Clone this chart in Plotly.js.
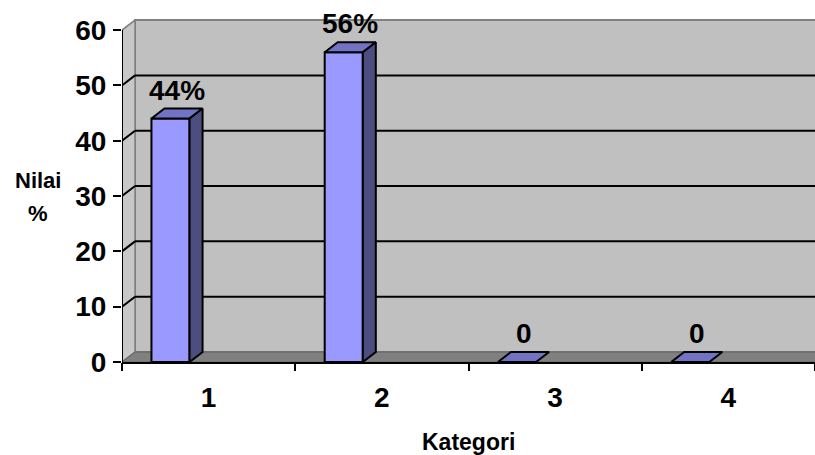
<!DOCTYPE html>
<html>
<head>
<meta charset="utf-8">
<script src="https://cdn.plot.ly/plotly-3.0.1.min.js"></script>
<style>html,body{margin:0;padding:0;background:#fff;}#chart{width:815px;height:455px;}</style>
</head>
<body>
<div id="chart"></div>
<script>
// ---- data ----
const categories = [1, 2, 3, 4];
const tickLabels = ['1', '2', '3', '4'];
const values = [44, 56, 0, 0];
const valueLabels = ['44%', '56%', '0', '0'];
const yTickValues = [0, 10, 20, 30, 40, 50, 60];
const xTitle = 'Kategori';
const yTitleLines = ['Nilai', '%'];

// ---- layout geometry ----
const W = 815, H = 455;
const M = {l: 122, r: 0, t: 19, b: 93};
const xRange = [0.5, 4.5];
const yRange = [0, 62];
const plotW = W - M.l - M.r, plotH = H - M.t - M.b;
const pxX = plotW / (xRange[1] - xRange[0]);
const pxY = plotH / (yRange[1] - yRange[0]);
const dx = 13 / pxX;   // depth offset in x data units
const dy = 10 / pxY;   // depth offset in y data units
const barW = 0.22, barOff = -0.33;
const FONT = 'Liberation Sans, Arial, sans-serif';

const x0w = xRange[0], x1w = xRange[1];
const yTop = yTickValues[yTickValues.length - 1];

const shapes = [];
// back wall
shapes.push({type: 'path', layer: 'below', xref: 'x', yref: 'y',
  path: `M ${x0w + dx} ${dy} L ${x0w + dx} ${yTop + dy} L ${x1w + 1} ${yTop + dy} L ${x1w + 1} ${dy} Z`,
  fillcolor: '#C0C0C0', line: {color: '#808080', width: 2}});
// side wall
shapes.push({type: 'path', layer: 'below', xref: 'x', yref: 'y',
  path: `M ${x0w} 0 L ${x0w} ${yTop} L ${x0w + dx} ${yTop + dy} L ${x0w + dx} ${dy} Z`,
  fillcolor: '#C8C8C8', line: {color: '#808080', width: 1.5}});
// floor
shapes.push({type: 'path', layer: 'below', xref: 'x', yref: 'y',
  path: `M ${x0w} 0 L ${x0w + dx} ${dy} L ${x1w + 1} ${dy} L ${x1w + 1} 0 Z`,
  fillcolor: '#808080', line: {color: '#606060', width: 1}});
// gridlines on back wall and side wall
yTickValues.forEach(v => {
  if (v === 0 || v === yTop) return;
  shapes.push({type: 'line', layer: 'below', xref: 'x', yref: 'y',
    x0: x0w + dx, x1: x1w + 1, y0: v + dy, y1: v + dy, line: {color: '#000', width: 2}});
  shapes.push({type: 'line', layer: 'below', xref: 'x', yref: 'y',
    x0: x0w, x1: x0w + dx, y0: v, y1: v + dy, line: {color: '#000', width: 2}});
});
// front vertical axis line
shapes.push({type: 'line', layer: 'above', xref: 'x', yref: 'y',
  x0: x0w, x1: x0w, y0: 0, y1: yTop, line: {color: '#000', width: 2}});

const traces = [];
// front faces
traces.push({type: 'bar', x: categories, y: values, width: barW, offset: barOff,
  marker: {color: '#9999FF', line: {color: '#000', width: 2}},
  hoverinfo: 'skip', showlegend: false, xaxis: 'x', yaxis: 'y'});
// top and side faces
categories.forEach((c, i) => {
  const a = c + barOff, b = a + barW, v = values[i];
  traces.push({type: 'scatter', mode: 'lines', fill: 'toself',
    x: [a, a + dx, b + dx, b, a], y: [v, v + dy, v + dy, v, v],
    fillcolor: '#7373C6', line: {color: '#000', width: 2},
    hoverinfo: 'skip', showlegend: false});
  if (v > 0) {
    traces.push({type: 'scatter', mode: 'lines', fill: 'toself',
      x: [b, b + dx, b + dx, b, b], y: [0, dy, v + dy, v, 0],
      fillcolor: '#4D4D80', line: {color: '#000', width: 2},
      hoverinfo: 'skip', showlegend: false});
  }
});
// dummy trace for the boundary tick axis
traces.push({type: 'scatter', mode: 'none', x: [xRange[0]], y: [0], xaxis: 'x2', yaxis: 'y',
  hoverinfo: 'skip', showlegend: false});

const annotations = [];
categories.forEach((c, i) => {
  annotations.push({xref: 'x', yref: 'y', x: c + barOff + (barW + dx) / 2, y: values[i] + dy,
    text: valueLabels[i], showarrow: false, yanchor: 'bottom', xanchor: 'center', yshift: 1,
    font: {family: FONT, size: 28, weight: 'bold', color: '#000'}});
});
annotations.push({xref: 'paper', yref: 'paper', x: 0.5, y: 0, yshift: -80, xanchor: 'center', yanchor: 'middle',
  text: xTitle, showarrow: false, font: {family: FONT, size: 23, weight: 'bold', color: '#000'}});
annotations.push({xref: 'paper', yref: 'paper', x: 0, y: 0, xshift: -84, yshift: 182, xanchor: 'center', yanchor: 'middle',
  text: yTitleLines[0], showarrow: false, font: {family: FONT, size: 22, weight: 'bold', color: '#000'}});
annotations.push({xref: 'paper', yref: 'paper', x: 0, y: 0, xshift: -84, yshift: 149, xanchor: 'center', yanchor: 'middle',
  text: yTitleLines[1], showarrow: false, font: {family: FONT, size: 22, weight: 'bold', color: '#000'}});

const layout = {
  width: W, height: H, margin: M,
  paper_bgcolor: '#fff', plot_bgcolor: 'rgba(0,0,0,0)',
  showlegend: false, barmode: 'overlay',
  xaxis: {range: xRange, tickvals: categories, ticktext: tickLabels, ticks: '',
    showgrid: false, zeroline: false, showline: true, linecolor: '#000', linewidth: 2,
    tickfont: {family: FONT, size: 28, weight: 'bold', color: '#000'}, ticklabelstandoff: 9, fixedrange: true},
  xaxis2: {range: xRange, overlaying: 'x', anchor: 'y', side: 'bottom',
    tickvals: [0.5, 1.5, 2.5, 3.5, 4.5], ticks: 'outside', ticklen: 8, tickwidth: 2, tickcolor: '#000',
    showticklabels: false, showgrid: false, zeroline: false, showline: false},
  yaxis: {range: yRange, tickvals: yTickValues, ticktext: yTickValues.map(String),
    ticks: 'outside', ticklen: 8, tickwidth: 2, tickcolor: '#000',
    showgrid: false, zeroline: false, showline: false,
    tickfont: {family: FONT, size: 28, weight: 'bold', color: '#000'}, ticklabelstandoff: 1},
  shapes: shapes,
  annotations: annotations
};

Plotly.newPlot('chart', traces, layout, {displayModeBar: false, staticPlot: true});
</script>
</body>
</html>
